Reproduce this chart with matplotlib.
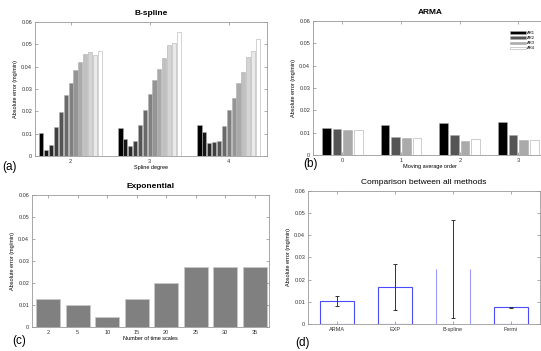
import numpy as np
import matplotlib
matplotlib.use('Agg')
import matplotlib.pyplot as plt

plt.rcParams['font.family'] = ['Liberation Sans', 'DejaVu Sans']

# (a) B-spline, 13 bars per spline degree
spline_degree = [2, 3, 4]
bspline_vals = [
    [0.0105, 0.0026, 0.0049, 0.0132, 0.0197, 0.0275, 0.0329, 0.0384, 0.0420, 0.0457, 0.0465, 0.0450, 0.0470],
    [0.0126, 0.0075, 0.0043, 0.0066, 0.0139, 0.0205, 0.0277, 0.0340, 0.0389, 0.0440, 0.0496, 0.0505, 0.0553],
    [0.0138, 0.0108, 0.0058, 0.0063, 0.0066, 0.0135, 0.0205, 0.0260, 0.0329, 0.0374, 0.0441, 0.0470, 0.0523],
]

# (b) ARMA
ma_order = [0, 1, 2, 3]
ar_names = ['AR1', 'AR2', 'AR3', 'AR4']
arma_vals = [
    [0.0121, 0.0118, 0.0112, 0.0110],
    [0.0134, 0.0081, 0.0075, 0.0075],
    [0.0143, 0.0091, 0.0063, 0.0073],
    [0.0146, 0.0091, 0.0069, 0.0066],
]
ar_colors = ['black', '#555555', '#aaaaaa', 'white']

# (c) Exponential
time_scales = ['2', '5', '10', '15', '20', '25', '30', '35']
exp_vals = [0.0128, 0.0101, 0.0045, 0.0125, 0.0202, 0.0275, 0.0275, 0.0275]

# (d) comparison
methods = ['ARMA', 'EXP', 'B-spline', 'Fermi']
method_mean = [0.0104, 0.0167, 0.0250, 0.0075]
method_std = [0.0021, 0.0102, 0.0221, 0.0002]

yticks = [0, 0.01, 0.02, 0.03, 0.04, 0.05, 0.06]
ytlabels = ['0', '0.01', '0.02', '0.03', '0.04', '0.05', '0.06']
ylab = 'Absolute error (mg/min)'
tfs = 4


def style_ax(ax):
    ax.set_ylim(0, 0.06)
    ax.set_yticks(yticks)
    ax.set_yticklabels(ytlabels)
    ax.tick_params(direction='in', top=True, right=True, labelsize=tfs,
                   length=2, width=0.5, colors='#888888', labelcolor='#333333', pad=2)
    for s in ax.spines.values():
        s.set_color('#999999')
        s.set_linewidth(0.6)
    ax.set_ylabel(ylab, fontsize=tfs, labelpad=2)


fig = plt.figure(figsize=(5.41, 3.51), dpi=100)

# (a)
ax = fig.add_axes([0.0647, 0.5556, 0.4283, 0.3818])
n = len(bspline_vals[0])
slot = 0.8 / n
gray = plt.cm.gray(np.linspace(0, 1, n))
for g, vals in zip(spline_degree, bspline_vals):
    for k, v in enumerate(vals):
        x = g - 0.4 + slot * (k + 0.5)
        ax.bar(x, v, width=slot * 0.85, color=gray[k], edgecolor='#b0b0b0', linewidth=0.4)
ax.set_xlim(1.55, 4.48)
ax.set_xticks(spline_degree)
style_ax(ax)
ax.set_xlabel('Spline degree', fontsize=tfs, labelpad=1)
ax.set_title('B-spline', fontsize=6, fontweight='bold', pad=5)

# (b)
ax = fig.add_axes([0.5786, 0.5584, 0.4338, 0.3818])
slot = 0.182
for k in range(len(ar_names)):
    xs = [m - 0.364 + slot * (k + 0.5) for m in ma_order]
    ax.bar(xs, [row[k] for row in arma_vals], width=0.145, color=ar_colors[k],
           edgecolor='#aaaaaa', linewidth=0.4, label=ar_names[k])
ax.set_xlim(-0.5, 3.5)
ax.set_xticks(ma_order)
style_ax(ax)
ax.set_xlabel('Moving average order', fontsize=tfs, labelpad=1)
ax.set_title('ARMA', fontsize=6, fontweight='bold', pad=5)
ax.legend(loc='upper right', bbox_to_anchor=(0.955, 0.935), frameon=False, fontsize=3,
          handlelength=3.8, handleheight=0.7, labelspacing=0.25, handletextpad=0.4,
          borderaxespad=0)

# (c)
ax = fig.add_axes([0.0591, 0.0684, 0.438, 0.376])
xc = np.arange(1, len(exp_vals) + 1)
ax.bar(xc, exp_vals, width=0.82, color='#808080', edgecolor='#c8c8c8', linewidth=0.6)
ax.set_xlim(0.45, 8.48)
ax.set_xticks(xc)
ax.set_xticklabels(time_scales)
style_ax(ax)
ax.set_xlabel('Number of time scales', fontsize=tfs, labelpad=1)
ax.set_title('Exponential', fontsize=6, fontweight='bold', pad=5)

# (d)
ax = fig.add_axes([0.5693, 0.0769, 0.4288, 0.379])
xd = np.arange(1, len(methods) + 1)
bars = ax.bar(xd, method_mean, width=0.6, color='white', edgecolor='#4a4aff', linewidth=0.8)
# the B-spline bar shows only its two sides in the original
bs = bars[2]
bs.set_linewidth(0)
ax.vlines([bs.get_x(), bs.get_x() + bs.get_width()], 0, bs.get_height(),
          colors='#9a9aff', linewidth=0.8)
ax.errorbar(xd, method_mean, yerr=method_std, fmt='none', ecolor='#333333',
            elinewidth=0.7, capsize=1.5, capthick=0.7)
ax.set_xlim(0.5, 4.5)
ax.set_xticks(xd)
ax.set_xticklabels(methods)
style_ax(ax)
ax.set_title('Comparison between all methods', fontsize=6, pad=5)

fig.text(0.004, 0.515, '(a)', fontsize=8.5)
fig.text(0.56, 0.525, '(b)', fontsize=8.5)
fig.text(0.022, 0.02, '(c)', fontsize=8.5)
fig.text(0.545, 0.015, '(d)', fontsize=8.5)

fig.savefig('out.png', dpi=100)
